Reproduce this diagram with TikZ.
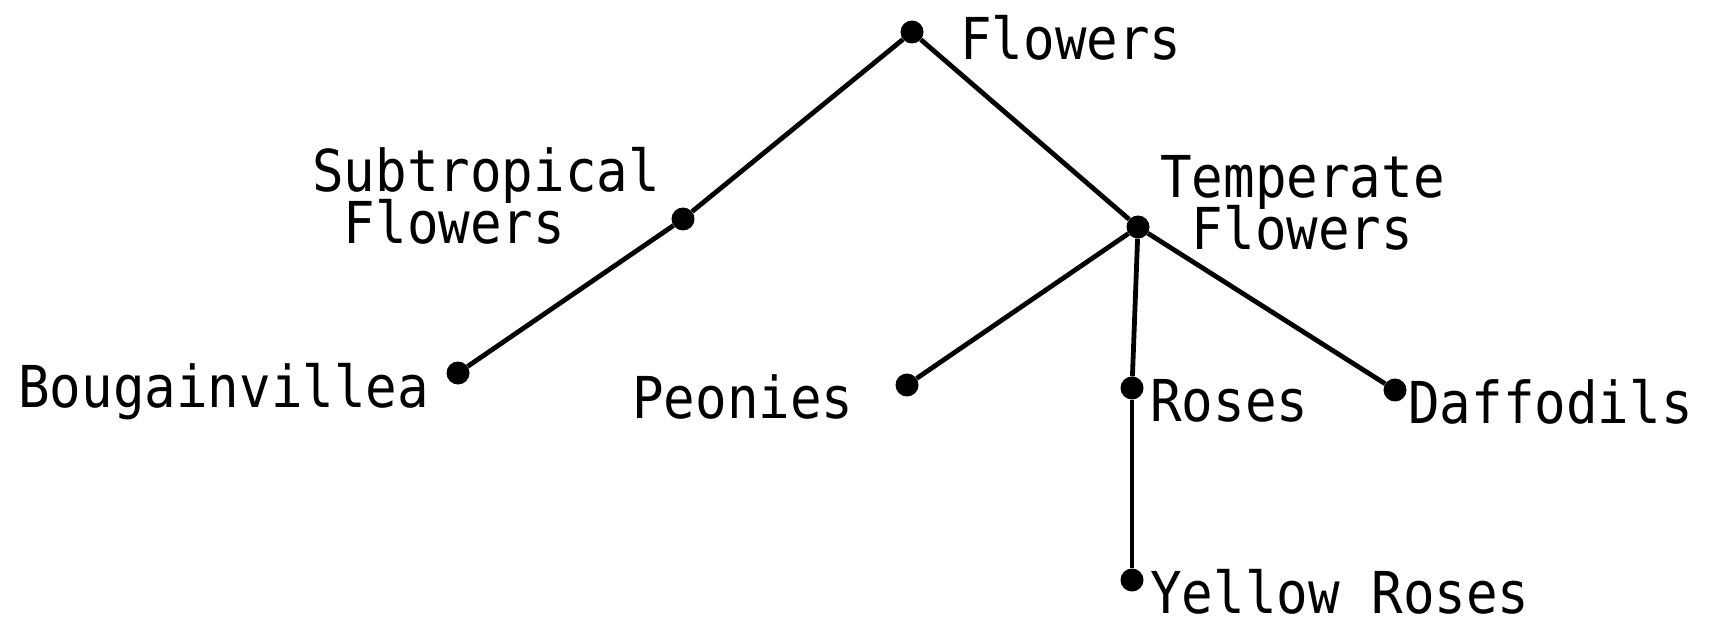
\documentclass[tikz,border=0pt]{standalone}
\usepackage{fontspec}
\newfontfamily\plotfont{DejaVu Sans Mono}
\newcommand{\tallt}[1]{\scalebox{1}[1.1]{#1}}
\newcommand{\twolines}[2]{\vtop{\baselineskip=47pt\lineskiplimit=-100pt\lineskip=0pt\hbox{#1}\hbox{#2}}}
\begin{document}
\begin{tikzpicture}[x=1pt,y=-1pt,
  dot/.style={circle,fill=black,inner sep=0pt,minimum size=23pt},
  lbl/.style={anchor=base west,inner sep=0pt,font=\plotfont\fontsize{52.5}{50}\selectfont},
  edge/.style={line width=4.8pt}]
\useasboundingbox (0,0) rectangle (1713,631);
% dots
\node[dot] (flo) at (912,32) {};
\node[dot] (sub) at (683,219) {};
\node[dot] (tem) at (1138,227) {};
\node[dot] (bou) at (458,373) {};
\node[dot] (peo) at (907,385) {};
\node[dot] (ros) at (1132,388) {};
\node[dot] (daf) at (1395,390) {};
\node[dot] (yel) at (1132,580) {};
% edges
\draw[edge] (flo) -- (sub);
\draw[edge] (sub) -- (bou);
\draw[edge] (flo) -- (tem);
\draw[edge] (tem) -- (peo);
\draw[edge] (tem) -- (ros);
\draw[edge] (ros) -- (yel);
\draw[edge] (tem) -- (daf);
% labels
\node[lbl] (flol) at (960,60) {\tallt{Flowers}};
\node[lbl] (subl) at (312,192) {\tallt{\twolines{Subtropical}{\phantom{S}Flowers}}};
\node[lbl] (teml) at (1160,198) {\tallt{\twolines{Temperate}{\phantom{T}Flowers}}};
\node[lbl] (boul) at (18,407) {\tallt{Bougainvillea}};
\node[lbl] (peol) at (632,418) {\tallt{Peonies}};
\node[lbl] (rosl) at (1150,421) {\tallt{Roses}};
\node[lbl] (dafl) at (1408,423) {\tallt{Daffodils}};
\node[lbl] (yell) at (1150,613) {\tallt{Yellow Roses}};
\end{tikzpicture}
\end{document}
